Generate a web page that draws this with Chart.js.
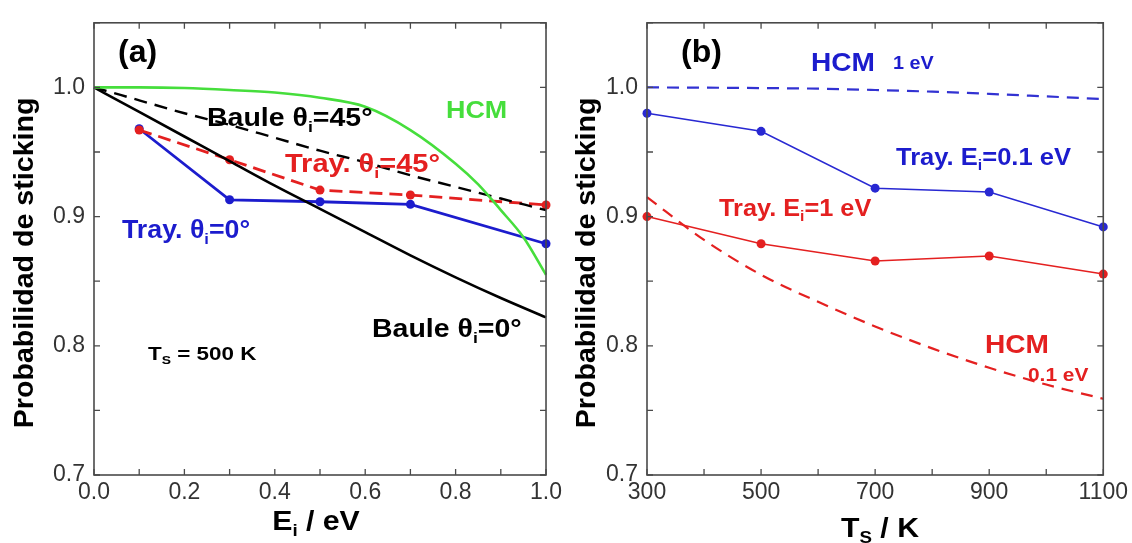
<!DOCTYPE html>
<html>
<head>
<meta charset="utf-8">
<script src="https://cdn.jsdelivr.net/npm/chart.js@4.4.1/dist/chart.umd.min.js"></script>
<style>
  body { margin: 0; background: #fff; }
  #wrap { position: relative; width: 1132px; height: 543px; }
  canvas { position: absolute; top: 0; }
</style>
</head>
<body>
<div id="wrap">
  <canvas id="panelA" width="566" height="543" style="left:0"></canvas>
  <canvas id="panelB" width="566" height="543" style="left:566px"></canvas>
</div>
<script>
// panel (a): sticking vs incident energy, Ts = 500 K
const energyGrid = [0, 0.1, 0.2, 0.3, 0.4, 0.5, 0.6, 0.7, 0.8, 0.9, 1.0];
const bauleNormal = [1.0, 0.981, 0.962, 0.943, 0.924, 0.906, 0.888, 0.870, 0.853, 0.837, 0.822];
const baule45 = [1.0, 0.990, 0.980, 0.971, 0.961, 0.951, 0.942, 0.932, 0.923, 0.914, 0.905];
const hcmEnergies = [0, 0.1, 0.2, 0.3, 0.4, 0.5, 0.6, 0.7, 0.8, 0.85, 0.9, 0.95, 1.0];
const hcmA = [1.0, 1.0, 0.9995, 0.998, 0.996, 0.992, 0.985, 0.967, 0.941, 0.925, 0.905, 0.884, 0.855];
const trajEnergies = [0.1, 0.3, 0.5, 0.7, 1.0];
const trajNormal = [0.968, 0.913, 0.9115, 0.9095, 0.879];
const traj45 = [0.967, 0.944, 0.9205, 0.9167, 0.909];

// panel (b): sticking vs surface temperature
const temps = [300, 500, 700, 900, 1100];
const hcmTemps = [300, 400, 500, 600, 700, 800, 900, 1000, 1100];
const hcm1eV = [1.0, 0.9998, 0.9995, 0.999, 0.998, 0.9967, 0.995, 0.993, 0.991];
const hcm01eV = [0.915, 0.882, 0.855, 0.834, 0.815, 0.798, 0.783, 0.770, 0.759];
const traj01eV = [0.980, 0.966, 0.922, 0.919, 0.892];
const traj1eV = [0.900, 0.879, 0.8656, 0.8695, 0.8555];

const BLUE = 'rgb(28,28,205)';
const RED = 'rgb(228,32,32)';
const GREEN = 'rgb(70,222,60)';
const FONT = "'Liberation Sans', Arial, sans-serif";

const pts = (xs, ys) => xs.map((x, i) => ({x: x, y: ys[i]}));

// text with subscript parts, stretched a bit wider like the original figure
function richText(ctx, parts, x, y, size, color, align, stretch) {
  const sub = size * 0.62;
  const k = stretch || 1.13;
  let w = 0;
  parts.forEach(p => {
    ctx.font = 'bold ' + (p[1] ? sub : size) + 'px ' + FONT;
    w += ctx.measureText(p[0]).width;
  });
  ctx.save();
  ctx.translate(align === 'center' ? x - w * k / 2 : x, y);
  ctx.scale(k, 1);
  let cx = 0;
  ctx.fillStyle = color;
  ctx.textAlign = 'left';
  ctx.textBaseline = 'alphabetic';
  parts.forEach(p => {
    ctx.font = 'bold ' + (p[1] ? sub : size) + 'px ' + FONT;
    ctx.fillText(p[0], cx, p[1] ? size * 0.22 : 0);
    cx += ctx.measureText(p[0]).width;
  });
  ctx.restore();
}

// frame + inward ticks on all sides, then labels
const framePlugin = {
  id: 'frame',
  afterDraw(chart, args, opts) {
    const ctx = chart.ctx;
    const a = chart.chartArea;
    const xs = chart.scales.x, ys = chart.scales.y;
    ctx.save();
    ctx.strokeStyle = '#4a4a4a';
    ctx.lineWidth = 1.6;
    ctx.strokeRect(a.left, a.top, a.right - a.left, a.bottom - a.top);
    ctx.lineWidth = 1.3;
    ctx.beginPath();
    xs.ticks.forEach(t => {
      const px = xs.getPixelForValue(t.value);
      ctx.moveTo(px, a.bottom); ctx.lineTo(px, a.bottom - 6);
      ctx.moveTo(px, a.top); ctx.lineTo(px, a.top + 6);
    });
    ys.ticks.forEach(t => {
      const py = ys.getPixelForValue(t.value);
      ctx.moveTo(a.left, py); ctx.lineTo(a.left + 6, py);
      ctx.moveTo(a.right, py); ctx.lineTo(a.right - 6, py);
    });
    ctx.stroke();

    // y axis title
    ctx.save();
    ctx.translate(opts.yTitleX, (a.top + a.bottom) / 2 + 14);
    ctx.rotate(-Math.PI / 2);
    ctx.scale(1.06, 1);
    ctx.font = 'bold 27px ' + FONT;
    ctx.fillStyle = '#000';
    ctx.textAlign = 'center';
    ctx.textBaseline = 'middle';
    ctx.fillText('Probabilidad de sticking', 0, 0);
    ctx.restore();

    // x axis title
    richText(ctx, opts.xTitle, opts.xTitleX, opts.xTitleY, 27, '#000', 'center', 1.12);

    // panel letter and annotations
    ctx.font = 'bold 32px ' + FONT;
    ctx.fillStyle = '#000';
    ctx.textAlign = 'left';
    ctx.textBaseline = 'alphabetic';
    ctx.fillText(opts.letter, opts.letterX, 62);
    opts.notes.forEach(n => richText(ctx, n.parts, n.x, n.y, n.size, n.color, 'left', n.k));
    ctx.restore();
  }
};

function baseOptions(xMin, xMax, xStep, xLabel, yWidth, padRight, plugOpts) {
  return {
    responsive: false,
    animation: false,
    layout: {padding: {left: 0, right: padRight, top: 20, bottom: 0}},
    plugins: {legend: {display: false}, tooltip: {enabled: false}, frame: plugOpts},
    scales: {
      x: {
        type: 'linear', min: xMin, max: xMax,
        grid: {display: false, drawTicks: false},
        border: {display: false},
        afterFit: s => { s.height = 68; },
        ticks: {
          stepSize: xStep, autoSkip: false, maxRotation: 0, padding: 4,
          color: '#333', font: {family: FONT, size: 23},
          callback: xLabel
        }
      },
      y: {
        type: 'linear', min: 0.7, max: 1.05,
        grid: {display: false, drawTicks: false},
        border: {display: false},
        afterFit: s => { s.width = yWidth; },
        ticks: {
          stepSize: 0.05, autoSkip: false, padding: 9,
          color: '#333', font: {family: FONT, size: 23},
          callback: v => {
            const r = Math.round(v * 100);
            return (r % 10 === 0 && r <= 100) ? (r / 100).toFixed(1) : '';
          }
        }
      }
    }
  };
}

function lineSet(data, color, width, dash, radius, smooth) {
  return {
    data: data, borderColor: color, backgroundColor: color,
    borderWidth: width, borderDash: dash || [],
    pointRadius: radius || 0, pointBorderWidth: 0, pointBackgroundColor: color,
    tension: smooth ? 0.4 : 0, cubicInterpolationMode: smooth ? 'monotone' : 'default',
    clip: false, fill: false
  };
}

new Chart(document.getElementById('panelA'), {
  type: 'line',
  data: {
    datasets: [
      lineSet(pts(hcmEnergies, hcmA), GREEN, 2.6, null, 0, true),
      lineSet(pts(energyGrid, baule45), '#000', 2.4, [13, 8], 0, true),
      lineSet(pts(energyGrid, bauleNormal), '#000', 2.6, null, 0, true),
      lineSet(pts(trajEnergies, traj45), RED, 2.8, [13, 7], 4.5, false),
      lineSet(pts(trajEnergies, trajNormal), BLUE, 2.8, null, 4.5, false)
    ]
  },
  options: baseOptions(0, 1, 0.1,
    v => (Math.round(v * 10) % 2 === 0 ? v.toFixed(1) : ''),
    94, 17, {
      yTitleX: 26, xTitle: [['E'], ['i', 'sub'], [' / eV']], xTitleX: 316, xTitleY: 530,
      letter: '(a)', letterX: 118,
      notes: [
        {parts: [['Baule θ'], ['i', 'sub'], ['=45°']], x: 207, y: 126, size: 25, color: '#000', k: 1.14},
        {parts: [['HCM']], x: 446, y: 118, size: 24, color: GREEN, k: 1.12},
        {parts: [['Tray. θ'], ['i', 'sub'], ['=45°']], x: 285, y: 172, size: 25, color: RED, k: 1.16},
        {parts: [['Tray. θ'], ['i', 'sub'], ['=0°']], x: 122, y: 238, size: 25, color: BLUE, k: 1.07},
        {parts: [['Baule θ'], ['i', 'sub'], ['=0°']], x: 372, y: 337, size: 25, color: '#000', k: 1.14},
        {parts: [['T'], ['S', 'sub'], [' = 500 K']], x: 148, y: 360, size: 19, color: '#000', k: 1.18}
      ]
    }),
  plugins: [framePlugin]
});

new Chart(document.getElementById('panelB'), {
  type: 'line',
  data: {
    datasets: [
      lineSet(pts(hcmTemps, hcm1eV), 'rgb(50,50,210)', 2.2, [12, 8], 0, true),
      lineSet(pts(hcmTemps, hcm01eV), RED, 2.2, [12, 8], 0, true),
      lineSet(pts(temps, traj01eV), 'rgb(40,40,210)', 1.5, null, 4.5, false),
      lineSet(pts(temps, traj1eV), RED, 1.5, null, 4.5, false)
    ]
  },
  options: baseOptions(300, 1100, 100,
    v => ((Math.round(v) - 300) % 200 === 0 ? String(Math.round(v)) : ''),
    81, 28, {
      yTitleX: 22, xTitle: [['T'], ['S', 'sub'], [' / K']], xTitleX: 314, xTitleY: 537,
      letter: '(b)', letterX: 115,
      notes: [
        {parts: [['HCM']], x: 245, y: 71, size: 26, color: BLUE, k: 1.08},
        {parts: [['1 eV']], x: 327, y: 69, size: 18, color: BLUE, k: 1.1},
        {parts: [['Tray. E'], ['i', 'sub'], ['=0.1 eV']], x: 330, y: 165, size: 23, color: BLUE, k: 1.11},
        {parts: [['Tray. E'], ['i', 'sub'], ['=1 eV']], x: 153, y: 216, size: 23, color: RED, k: 1.1},
        {parts: [['HCM']], x: 419, y: 353, size: 26, color: RED, k: 1.08},
        {parts: [['0.1 eV']], x: 462, y: 381, size: 18, color: RED, k: 1.16}
      ]
    }),
  plugins: [framePlugin]
});
</script>
</body>
</html>
